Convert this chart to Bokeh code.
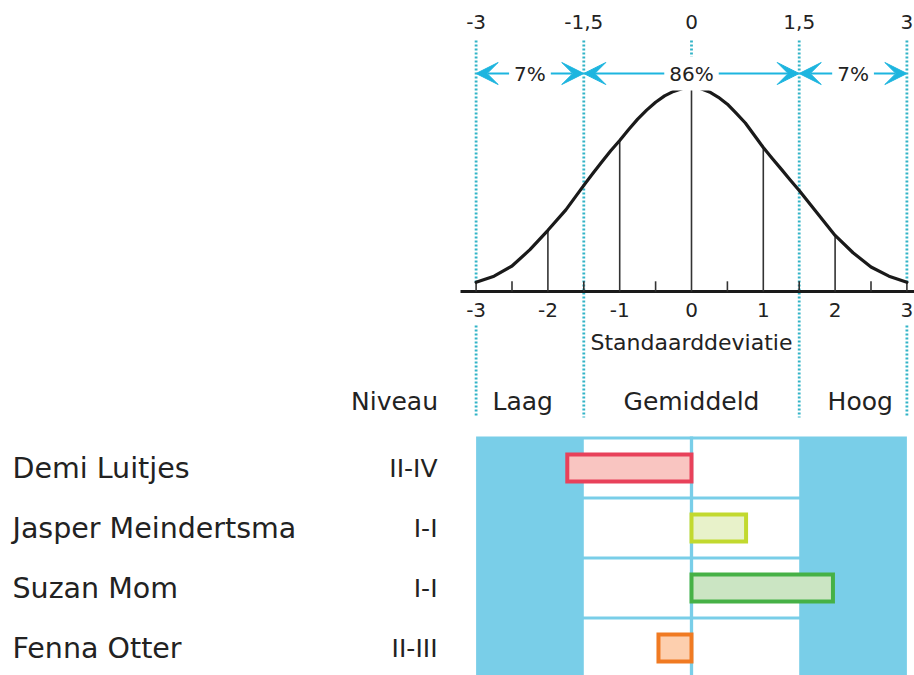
from bokeh.plotting import figure
from bokeh.models import Range1d, ColumnDataSource, Arrow, VeeHead, Label
from bokeh.core.properties import value
from bokeh.embed import file_html
from bokeh.resources import INLINE

# ---------------- data ----------------
names = ["Demi Luitjes", "Jasper Meindertsma", "Suzan Mom", "Fenna Otter"]
niveau = ["II-IV", "I-I", "I-I", "II-III"]
scores = [-1.73, 0.76, 1.97, -0.46]
bar_line_colors = ["#e8415a", "#c2d92f", "#46b146", "#f07a22"]
bar_fill_colors = ["#f9c5c1", "#e8f2ca", "#cbe5c3", "#fdcfae"]

# bell curve (height relative to the peak)
curve_x = [-3, -2.75, -2.5, -2.25, -2, -1.75,
           -1.5, -1.375, -1.25, -1.125, -1, -0.875, -0.75, -0.625, -0.5, -0.375, -0.25, -0.125, 0,
           0.125, 0.25, 0.375, 0.5, 0.625, 0.75, 0.875, 1, 1.125, 1.25, 1.375, 1.5,
           1.75, 2, 2.25, 2.5, 2.75, 3]
curve_h = [0.045, 0.075, 0.125, 0.205, 0.300, 0.400,
           0.520, 0.578, 0.635, 0.690, 0.740, 0.794, 0.845, 0.889, 0.928, 0.959, 0.981, 0.995, 1.0,
           0.995, 0.978, 0.952, 0.918, 0.873, 0.826, 0.766, 0.706, 0.652, 0.600, 0.547, 0.495,
           0.385, 0.275, 0.190, 0.120, 0.075, 0.045]

axis_ticks = [-3, -2, -1, 0, 1, 2, 3]
axis_tick_labels = ["-3", "-2", "-1", "0", "1", "2", "3"]
minor_ticks = [-3, -2.5, -1.5, -0.5, 0.5, 1.5, 2.5, 3]
top_ticks = [-3, -1.5, 0, 1.5, 3]
top_tick_labels = ["-3", "-1,5", "0", "1,5", "3"]
zone_bounds = [-3, -1.5, 1.5, 3]
zone_pcts = ["7%", "86%", "7%"]
zone_names = ["Laag", "Gemiddeld", "Hoog"]
zone_name_x = [-2.35, 0, 2.35]

# ---------------- layout ----------------
W, H = 914, 675
S, X0 = 71.8, 691.0          # px per standard deviation, x pixel of 0
TXT = "#222222"
BLUE = "#79cee8"
DOT = "#33b4c7"
ARW = "#1db5df"
FONT = value("DejaVu Sans")

p = figure(width=W, height=H, output_backend="svg", toolbar_location=None,
           x_axis_type=None, y_axis_type=None, title=None,
           x_range=Range1d((0 - X0) / S, (W - X0) / S),
           y_range=Range1d(H, 0), min_border=0)
p.outline_line_color = None
p.grid.visible = False
p.extra_x_ranges = {"px": Range1d(0, W)}
p.extra_y_ranges = {"curve": Range1d((291 - H) / 204, 291 / 204),
                    "rows": Range1d((H - 467.5) / 60, (0 - 467.5) / 60)}

rows = list(range(len(names)))

# ---- table background ----
p.quad(left=[-3], right=[3], top=[-0.525], bottom=[3.8], y_range_name="rows",
       fill_color=BLUE, line_color=None)
p.quad(left=[-1.5] * len(rows), right=[1.5] * len(rows),
       top=[r - 0.475 for r in rows], bottom=[r + 0.475 for r in rows],
       y_range_name="rows", fill_color="white", line_color=None)
p.segment(x0=[0], y0=[-0.525], x1=[0], y1=[3.8], y_range_name="rows",
          line_color=BLUE, line_width=3.3)

# ---- bars ----
bsrc = ColumnDataSource(dict(y=rows,
                             left=[min(0, v) for v in scores],
                             right=[max(0, v) for v in scores],
                             lc=bar_line_colors, fc=bar_fill_colors))
p.hbar(y="y", left="left", right="right", height=0.45, source=bsrc,
       y_range_name="rows", fill_color="fc", line_color="lc", line_width=4,
       line_join="miter")

# ---- names / niveau ----
p.text(x=[12] * len(names), y=rows, text=names, x_range_name="px", y_range_name="rows",
       text_font=FONT, text_font_size="28.5px", text_color=TXT,
       text_align="left", text_baseline="middle")
p.text(x=[437] * len(niveau), y=rows, text=niveau, x_range_name="px", y_range_name="rows",
       text_font=FONT, text_font_size="25px", text_color=TXT,
       text_align="right", text_baseline="middle")
p.text(x=[437.5], y=[401], text=["Niveau"], x_range_name="px",
       text_font=FONT, text_font_size="25px", text_color=TXT,
       text_align="right", text_baseline="middle")
p.text(x=zone_name_x, y=[401] * 3, text=zone_names,
       text_font=FONT, text_font_size="25px", text_color=TXT,
       text_align="center", text_baseline="middle")

# ---- dotted zone lines ----
inner = [b for b in zone_bounds if abs(b) < 3]
outer = [b for b in zone_bounds if abs(b) == 3]
dot_kw = dict(line_color=DOT, line_width=2.8, line_dash="2 2")
p.segment(x0=inner, y0=[40] * len(inner), x1=inner, y1=[417] * len(inner), **dot_kw)
p.segment(x0=outer, y0=[40] * len(outer), x1=outer, y1=[282] * len(outer), **dot_kw)
p.segment(x0=outer, y0=[325] * len(outer), x1=outer, y1=[417] * len(outer), **dot_kw)
p.segment(x0=[0], y0=[40], x1=[0], y1=[60], **dot_kw)

# ---- curve and its axis ----
p.segment(x0=[(460 - X0) / S], y0=[0], x1=[(W - X0) / S], y1=[0], y_range_name="curve",
          line_color="#1a1a1a", line_width=3)
p.segment(x0=minor_ticks, y0=[0] * len(minor_ticks), x1=minor_ticks,
          y1=[0.05] * len(minor_ticks), y_range_name="curve",
          line_color="#333333", line_width=1.6)
ix = [i for i, x in enumerate(curve_x) if float(x).is_integer() and abs(x) < 3]
p.segment(x0=[curve_x[i] for i in ix], y0=[0] * len(ix), x1=[curve_x[i] for i in ix],
          y1=[curve_h[i] for i in ix], y_range_name="curve",
          line_color="#333333", line_width=1.6)
p.line(curve_x, curve_h, y_range_name="curve", line_color="#1a1a1a", line_width=3.2,
       line_join="round", line_cap="round")

p.text(x=axis_ticks, y=[309] * len(axis_ticks), text=axis_tick_labels,
       text_font=FONT, text_font_size="20px", text_color=TXT,
       text_align="center", text_baseline="middle")
p.text(x=top_ticks, y=[21] * len(top_ticks), text=top_tick_labels,
       text_font=FONT, text_font_size="20px", text_color=TXT,
       text_align="center", text_baseline="middle")
p.text(x=[0], y=[342], text=["Standaarddeviatie"],
       text_font=FONT, text_font_size="22px", text_color=TXT,
       text_align="center", text_baseline="middle")

# ---- percentage arrows ----
asrc = ColumnDataSource(dict(x0=zone_bounds[:-1], x1=zone_bounds[1:], y=[73] * 3))
p.add_layout(Arrow(x_start="x0", y_start="y", x_end="x1", y_end="y", source=asrc,
                   line_color=ARW, line_width=2,
                   start=VeeHead(size=22, fill_color=ARW, line_color=ARW),
                   end=VeeHead(size=22, fill_color=ARW, line_color=ARW)))
for a, b, t in zip(zone_bounds[:-1], zone_bounds[1:], zone_pcts):
    p.add_layout(Label(x=(a + b) / 2, y=73, text=t, text_align="center",
                       text_baseline="middle", text_font="DejaVu Sans",
                       text_font_size="20px", text_color=TXT,
                       background_fill_color="white", padding=5))

open("out.html", "w").write(file_html(p, INLINE))
